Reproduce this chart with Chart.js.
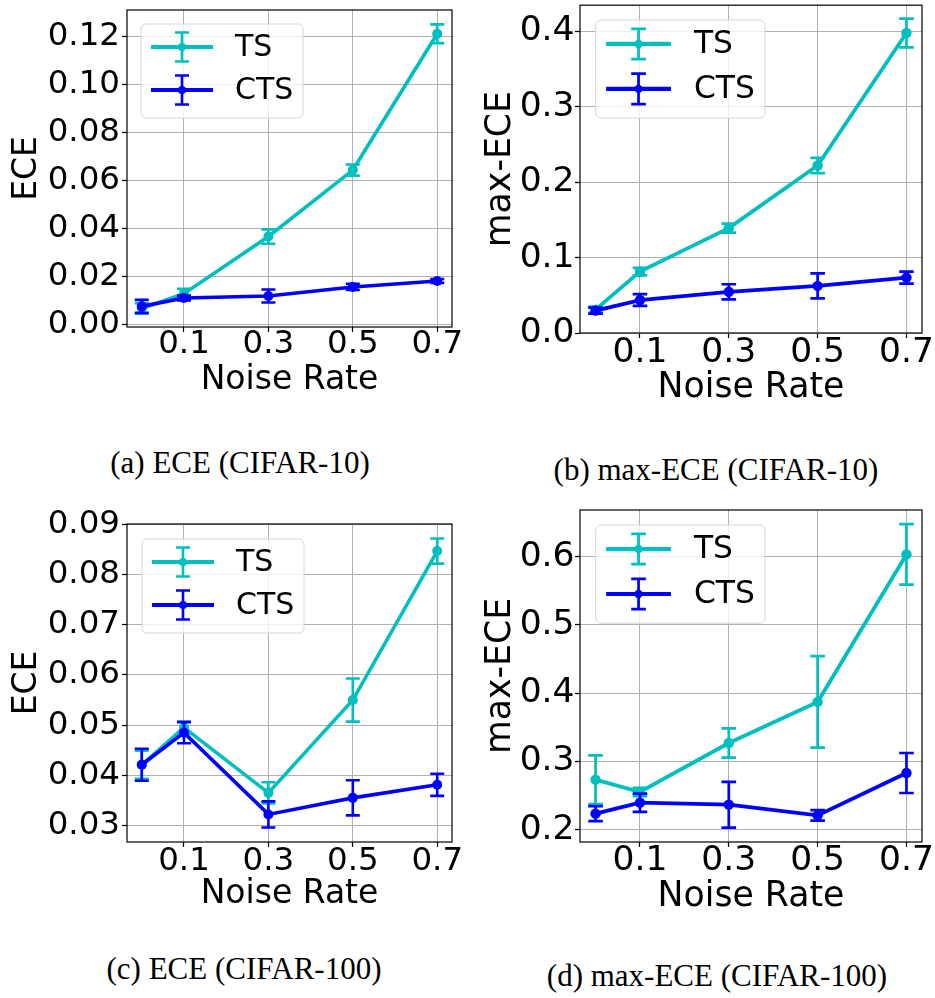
<!DOCTYPE html>
<html>
<head>
<meta charset="utf-8">
<script src="https://cdn.jsdelivr.net/npm/chart.js@4.4.0/dist/chart.umd.min.js"></script>
<style>
body { margin:0; background:#fff; width:935px; height:998px; position:relative; overflow:hidden; }
.panel { position:absolute; }
.cap { position:absolute; width:500px; text-align:center; font-family:"Liberation Serif", serif; font-size:31px; line-height:36px; color:#000; white-space:nowrap; }
</style>
</head>
<body>
<div class="panel" style="left:0px;top:0px"><canvas id="chartA" width="467" height="420"></canvas></div>
<div class="panel" style="left:467px;top:0px"><canvas id="chartB" width="468" height="420"></canvas></div>
<div class="panel" style="left:0px;top:500px"><canvas id="chartC" width="467" height="430"></canvas></div>
<div class="panel" style="left:467px;top:500px"><canvas id="chartD" width="468" height="430"></canvas></div>

<div class="cap" style="left:-10px;top:445px">(a) ECE (CIFAR-10)</div>
<div class="cap" style="left:466px;top:452px">(b) max-ECE (CIFAR-10)</div>
<div class="cap" style="left:-6px;top:951px">(c) ECE (CIFAR-100)</div>
<div class="cap" style="left:467px;top:958px">(d) max-ECE (CIFAR-100)</div>

<script>
// x axis: noise rate
var noiseRates   = [0.0, 0.1, 0.3, 0.5, 0.7];
var xTicks       = [0.1, 0.3, 0.5, 0.7];
var xTickLabels  = ['0.1', '0.3', '0.5', '0.7'];
var seriesNames  = ['TS', 'CTS'];

// (a) ECE, CIFAR-10
var eceC10TS        = [0.0068, 0.0130, 0.0368, 0.0645, 0.1213];
var eceC10TSErr     = [0.0022, 0.0020, 0.0030, 0.0023, 0.0039];
var eceC10CTS       = [0.0077, 0.0112, 0.0120, 0.0158, 0.0183];
var eceC10CTSErr    = [0.0027, 0.0010, 0.0027, 0.0013, 0.0008];
var yTicksA         = [0.00, 0.02, 0.04, 0.06, 0.08, 0.10, 0.12];
var yTickLabelsA    = ['0.00', '0.02', '0.04', '0.06', '0.08', '0.10', '0.12'];

// (b) max-ECE, CIFAR-10
var maxEceC10TS     = [0.031, 0.0813, 0.139, 0.222, 0.3976];
var maxEceC10TSErr  = [0.004, 0.005, 0.006, 0.010, 0.019];
var maxEceC10CTS    = [0.0297, 0.0437, 0.0546, 0.0625, 0.0734];
var maxEceC10CTSErr = [0.004, 0.0077, 0.010, 0.0166, 0.008];
var yTicksB         = [0.0, 0.1, 0.2, 0.3, 0.4];
var yTickLabelsB    = ['0.0', '0.1', '0.2', '0.3', '0.4'];

// (c) ECE, CIFAR-100
var eceC100TS       = [0.0421, 0.0495, 0.0365, 0.0550, 0.0847];
var eceC100TSErr    = [0.0028, 0.0012, 0.0021, 0.0043, 0.0025];
var eceC100CTS      = [0.0421, 0.0485, 0.0322, 0.0355, 0.0381];
var eceC100CTSErr   = [0.0032, 0.0021, 0.0026, 0.0035, 0.0022];
var yTicksC         = [0.03, 0.04, 0.05, 0.06, 0.07, 0.08, 0.09];
var yTickLabelsC    = ['0.03', '0.04', '0.05', '0.06', '0.07', '0.08', '0.09'];

// (d) max-ECE, CIFAR-100
var maxEceC100TS     = [0.2733, 0.2553, 0.327, 0.3873, 0.6034];
var maxEceC100TSErr  = [0.0357, 0.006, 0.0215, 0.067, 0.0443];
var maxEceC100CTS    = [0.2235, 0.2396, 0.2367, 0.221, 0.2831];
var maxEceC100CTSErr = [0.011, 0.0134, 0.0335, 0.0078, 0.0293];
var yTicksD          = [0.2, 0.3, 0.4, 0.5, 0.6];
var yTickLabelsD     = ['0.2', '0.3', '0.4', '0.5', '0.6'];

var tsColor  = '#00bfbf';
var ctsColor = '#0000ff';
var fontFam  = "'DejaVu Sans', sans-serif";

function points(ys) {
	var out = [];
	for (var i = 0; i < noiseRates.length; i++) out.push({ x: noiseRates[i], y: ys[i] });
	return out;
}

// error bars, drawn under the line and its markers
var errorBarPlugin = {
	id: 'errorBars',
	beforeDatasetDraw: function(chart, args) {
		var ds = chart.data.datasets[args.index];
		var xs = chart.scales.x, ys = chart.scales.y;
		var ctx = chart.ctx;
		var cap = ds.capHalf;
		ctx.save();
		ctx.strokeStyle = ds.borderColor;
		ctx.lineWidth = ds.errWidth;
		for (var i = 0; i < ds.data.length; i++) {
			var px = xs.getPixelForValue(ds.data[i].x);
			var top = ys.getPixelForValue(ds.data[i].y + ds.errors[i]);
			var bot = ys.getPixelForValue(ds.data[i].y - ds.errors[i]);
			ctx.beginPath();
			ctx.moveTo(px, top); ctx.lineTo(px, bot);
			ctx.moveTo(px - cap, top); ctx.lineTo(px + cap, top);
			ctx.moveTo(px - cap, bot); ctx.lineTo(px + cap, bot);
			ctx.stroke();
		}
		ctx.restore();
	}
};

// axes frame + legend box
var framePlugin = {
	id: 'frameLegend',
	afterDraw: function(chart) {
		var p = chart.options.plugins.frameLegend;
		var ctx = chart.ctx, a = chart.chartArea, s = p.scale;
		ctx.save();
		ctx.strokeStyle = '#000';
		ctx.lineWidth = 1.2;
		ctx.strokeRect(a.left, a.top, a.right - a.left, a.bottom - a.top);

		var bx = a.left + p.x, by = a.top + p.y;
		ctx.beginPath();
		ctx.roundRect(bx, by, 162 * s, 94 * s, 5 * s);
		ctx.fillStyle = 'rgba(255,255,255,0.8)';
		ctx.fill();
		ctx.strokeStyle = '#d6d6d6';
		ctx.lineWidth = 1;
		ctx.stroke();

		var rows = [23 * s, 66 * s];
		var cols = [tsColor, ctsColor];
		for (var i = 0; i < 2; i++) {
			var ry = by + rows[i];
			var hx0 = bx + 10 * s, hx1 = bx + 72 * s, hc = (hx0 + hx1) / 2;
			ctx.strokeStyle = cols[i];
			ctx.fillStyle = cols[i];
			ctx.lineWidth = 4 * s;
			ctx.beginPath(); ctx.moveTo(hx0, ry); ctx.lineTo(hx1, ry); ctx.stroke();
			ctx.lineWidth = 2.6 * s;
			ctx.beginPath();
			ctx.moveTo(hc, ry - 14.5 * s); ctx.lineTo(hc, ry + 14.5 * s);
			ctx.moveTo(hc - 7 * s, ry - 14.5 * s); ctx.lineTo(hc + 7 * s, ry - 14.5 * s);
			ctx.moveTo(hc - 7 * s, ry + 14.5 * s); ctx.lineTo(hc + 7 * s, ry + 14.5 * s);
			ctx.stroke();
			ctx.beginPath(); ctx.arc(hc, ry, 4 * s, 0, Math.PI * 2); ctx.fill();
			ctx.fillStyle = '#000';
			ctx.font = (30 * s) + 'px ' + fontFam;
			ctx.textBaseline = 'middle';
			ctx.textAlign = 'left';
			ctx.fillText(seriesNames[i], bx + 94 * s, ry + 1);
		}
		ctx.restore();
	}
};

function makePanel(id, p) {
	var tickFont  = { family: fontFam, size: p.tickSize, lineHeight: 1 };
	var titleFont = { family: fontFam, size: p.titleSize, lineHeight: 1.2 };
	var grid = { color: '#b0b0b0', lineWidth: 1, tickColor: '#000', tickLength: 5, tickWidth: 1.2 };
	var line = p.lineWidth;
	return new Chart(document.getElementById(id), {
		type: 'line',
		data: {
			datasets: [
				{ label: 'TS', data: points(p.ts), errors: p.tsErr, borderColor: tsColor, backgroundColor: tsColor,
				  borderWidth: line, pointRadius: p.markR, pointBorderWidth: 0, pointBackgroundColor: tsColor,
				  errWidth: p.errWidth, capHalf: p.capHalf, tension: 0, order: 1 },
				{ label: 'CTS', data: points(p.cts), errors: p.ctsErr, borderColor: ctsColor, backgroundColor: ctsColor,
				  borderWidth: line, pointRadius: p.markR, pointBorderWidth: 0, pointBackgroundColor: ctsColor,
				  errWidth: p.errWidth, capHalf: p.capHalf, tension: 0, order: 0 }
			]
		},
		options: {
			responsive: false,
			animation: false,
			events: [],
			layout: { padding: { left: 0, right: p.padRight, top: p.padTop, bottom: 0 } },
			plugins: {
				legend: { display: false },
				tooltip: { enabled: false },
				frameLegend: { x: p.legX, y: p.legY, scale: p.legScale }
			},
			scales: {
				x: {
					type: 'linear', min: -0.035, max: 0.735,
					afterBuildTicks: function(s) { s.ticks = xTicks.map(function(v) { return { value: v }; }); },
					afterFit: function(s) { s.height = p.xAxisH; s.paddingLeft = 0; s.paddingRight = 0; },
					ticks: { font: tickFont, color: '#000', padding: p.xTickPad, maxRotation: 0, autoSkip: false,
						callback: function(v, i) { return xTickLabels[i]; } },
					grid: grid,
					border: { display: false },
					title: { display: true, text: 'Noise Rate', color: '#000', font: titleFont, padding: { top: 0, bottom: p.xTitlePad } }
				},
				y: {
					type: 'linear', min: p.yMin, max: p.yMax,
					afterBuildTicks: function(s) { s.ticks = p.yTicks.map(function(v) { return { value: v }; }); },
					afterFit: function(s) { s.width = p.yAxisW; s.paddingTop = 0; s.paddingBottom = 0; },
					ticks: { font: tickFont, color: '#000', padding: p.yTickPad, autoSkip: false,
						callback: function(v, i) { return p.yLabels[i]; } },
					grid: grid,
					border: { display: false },
					title: { display: true, text: p.yTitle, color: '#000', font: titleFont, padding: { top: p.yTitlePad, bottom: 0 } }
				}
			}
		},
		plugins: [errorBarPlugin, framePlugin]
	});
}

makePanel('chartA', {
	ts: eceC10TS, tsErr: eceC10TSErr, cts: eceC10CTS, ctsErr: eceC10CTSErr,
	yMin: -0.0009, yMax: 0.1312, yTicks: yTicksA, yLabels: yTickLabelsA, yTitle: 'ECE',
	tickSize: 32.5, titleSize: 33, lineWidth: 3.6, markR: 5, errWidth: 2.6, capHalf: 7,
	padRight: 15, padTop: 10, xAxisH: 93, yAxisW: 127,
	xTickPad: -3.25, yTickPad: 2, xTitlePad: 20.2, yTitlePad: 7.2,
	legX: 14, legY: 14, legScale: 1
});
makePanel('chartB', {
	ts: maxEceC10TS, tsErr: maxEceC10TSErr, cts: maxEceC10CTS, ctsErr: maxEceC10CTSErr,
	yMin: 0, yMax: 0.4345, yTicks: yTicksB, yLabels: yTickLabelsB, yTitle: 'max-ECE',
	tickSize: 34.5, titleSize: 34.7, lineWidth: 3.8, markR: 5.2, errWidth: 2.7, capHalf: 7.3,
	padRight: 13, padTop: 1, xAxisH: 87, yAxisW: 113,
	xTickPad: -2.25, yTickPad: 0.5, xTitlePad: 10.7, yTitlePad: 12.9,
	legX: 15.7, legY: 14.7, legScale: 1.045
});
makePanel('chartC', {
	ts: eceC100TS, tsErr: eceC100TSErr, cts: eceC100CTS, ctsErr: eceC100CTSErr,
	yMin: 0.0267, yMax: 0.0901, yTicks: yTicksC, yLabels: yTickLabelsC, yTitle: 'ECE',
	tickSize: 32.5, titleSize: 33, lineWidth: 3.6, markR: 5, errWidth: 2.6, capHalf: 7,
	padRight: 15, padTop: 24, xAxisH: 88, yAxisW: 127,
	xTickPad: -1.55, yTickPad: 2, xTitlePad: 16.2, yTitlePad: 7.2,
	legX: 15, legY: 15, legScale: 1
});
makePanel('chartD', {
	ts: maxEceC100TS, tsErr: maxEceC100TSErr, cts: maxEceC100CTS, ctsErr: maxEceC100CTSErr,
	yMin: 0.182, yMax: 0.6685, yTicks: yTicksD, yLabels: yTickLabelsD, yTitle: 'max-ECE',
	tickSize: 34.5, titleSize: 34.7, lineWidth: 3.8, markR: 5.2, errWidth: 2.7, capHalf: 7.3,
	padRight: 13, padTop: 10, xAxisH: 88, yAxisW: 113,
	xTickPad: -2.75, yTickPad: 0.5, xTitlePad: 12.2, yTitlePad: 12.9,
	legX: 15.7, legY: 15, legScale: 1.045
});
</script>
</body>
</html>
